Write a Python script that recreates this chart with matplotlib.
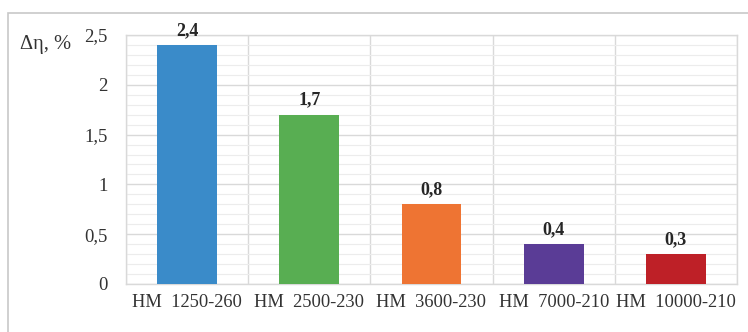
import matplotlib
matplotlib.use("Agg")
import matplotlib.pyplot as plt
from matplotlib.patches import Rectangle
from matplotlib.ticker import MultipleLocator, FuncFormatter

plt.rcParams['font.family'] = ['Liberation Serif', 'DejaVu Serif']

categories = ["НМ  1250-260", "НМ  2500-230", "НМ  3600-230", "НМ  7000-210", "НМ  10000-210"]
values = [2.4, 1.7, 0.8, 0.4, 0.3]
colors = ["#3A8BC9", "#58AE52", "#EE7433", "#5A3C96", "#BE2027"]
y_ticks = [0, 0.5, 1, 1.5, 2, 2.5]

fig = plt.figure(figsize=(7.48, 3.32), dpi=100)
W, H = 748, 332
ax = fig.add_axes([126 / W, 1 - 284 / H, (737 - 126) / W, (284 - 35) / H])

# outer frame of the chart area
fig.patches.append(Rectangle((8 / W, -0.1), 1.2, 1 - 13 / H + 0.1,
                             transform=fig.transFigure, fill=False,
                             edgecolor="#c8c8c8", linewidth=1.2))

x = range(len(categories))
ax.bar(x, values, width=0.49, color=colors, zorder=3)
for xi, v in zip(x, values):
    ax.text(xi, v + 0.06, f"{v:.1f}".replace(".", ","), ha="center", va="bottom",
            fontsize=13, fontweight="bold", color="#262626")

ax.set_xlim(-0.5, len(categories) - 0.5)
ax.set_ylim(0, 2.5)
ax.set_yticks(y_ticks)
ax.yaxis.set_major_formatter(FuncFormatter(lambda v, p: f"{v:g}".replace(".", ",")))
ax.yaxis.set_minor_locator(MultipleLocator(0.1))
ax.set_xticks(list(x))
ax.set_xticklabels(categories)
ax.xaxis.set_minor_locator(MultipleLocator(1, offset=0.5))

ax.grid(which="major", axis="y", color="#d9d9d9", linewidth=1.0, zorder=0)
ax.grid(which="minor", axis="y", color="#ececec", linewidth=0.8, zorder=0)
ax.grid(which="minor", axis="x", color="#d9d9d9", linewidth=1.0, zorder=0)
ax.tick_params(which="both", length=0)
ax.tick_params(axis="y", labelsize=13.5, pad=13, colors="#333333")
ax.tick_params(axis="x", labelsize=13.3, pad=7, colors="#333333")
for s in ax.spines.values():
    s.set_color("#d9d9d9")
    s.set_linewidth(1.0)

fig.text(20 / W, 1 - 45 / H, "Δη, %", fontsize=14.8, ha="left", va="center", color="#333333")

fig.savefig("out.png", dpi=100)
